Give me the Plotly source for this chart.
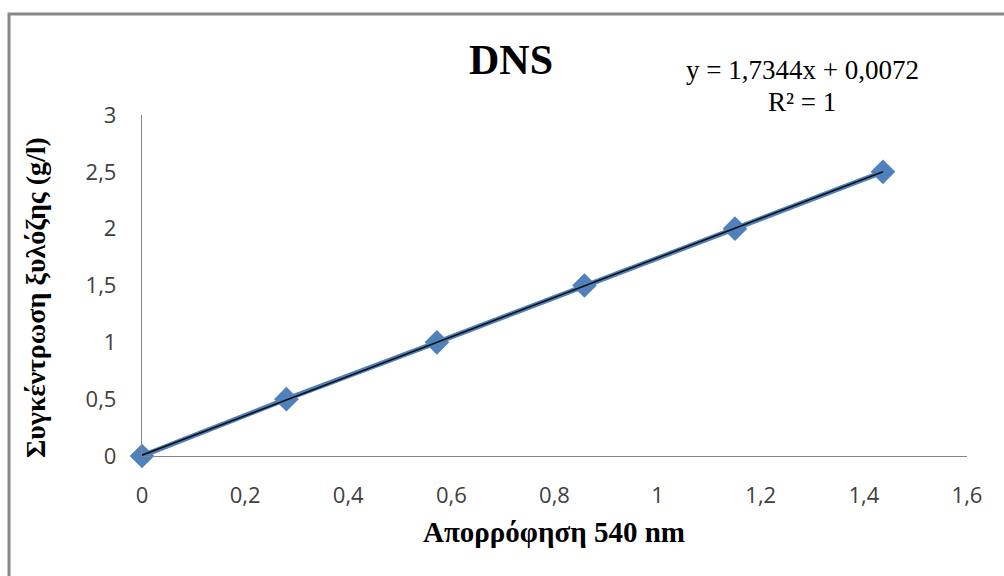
import numpy as np
import plotly.graph_objects as go

# Data
absorbance = [0.0, 0.280, 0.572, 0.858, 1.150, 1.437]   # Απορρόφηση 540 nm
concentration = [0.0, 0.5, 1.0, 1.5, 2.0, 2.5]           # g/l
x_ticks = [0, 0.2, 0.4, 0.6, 0.8, 1, 1.2, 1.4, 1.6]
y_ticks = [0, 0.5, 1, 1.5, 2, 2.5, 3]

title_text = "DNS"
x_title = "Απορρόφηση 540 nm"
y_title = "Συγκέντρωση ξυλόζης (g/l)"
eq_text = "y = 1,7344x + 0,0072"
r2_text = "R² = 1"

# Linear trendline fitted from the data (spans data range)
slope, intercept = np.polyfit(absorbance, concentration, 1)
trend_x = [min(absorbance), max(absorbance)]
trend_y = [slope * v + intercept for v in trend_x]

blue = "#4F81BD"
axis_gray = "#868686"
tick_font = dict(family="Open Sans", size=22, color="#404040")

fig = go.Figure()
fig.add_trace(go.Scatter(
    x=absorbance, y=concentration, mode="lines+markers",
    line=dict(color=blue, width=5),
    marker=dict(symbol="diamond", size=19, color=blue),
    cliponaxis=False,
    showlegend=False, hoverinfo="skip"))
fig.add_trace(go.Scatter(
    x=trend_x, y=trend_y, mode="lines",
    line=dict(color="#111111", width=1.6),
    cliponaxis=False,
    showlegend=False, hoverinfo="skip"))

L, R, T, B = 142, 37, 115, 120
W, H = 1004, 576
pw, ph = W - L - R, H - T - B

def px_to_paper_x(px):
    return (px - L) / pw

def px_to_paper_y(py):
    return (H - B - py) / ph

fig.update_layout(
    width=W, height=H,
    margin=dict(l=L, r=R, t=T, b=B, pad=0),
    paper_bgcolor="white", plot_bgcolor="white",
    separators=",.",
    showlegend=False,
    xaxis=dict(range=[0, 1.6], tickvals=x_ticks, showgrid=False, zeroline=False,
               showline=True, linecolor=axis_gray, linewidth=1.3,
               ticks="outside", ticklen=19, tickcolor="rgba(0,0,0,0)",
               tickfont=tick_font, fixedrange=True),
    yaxis=dict(range=[0, 3], tickvals=y_ticks, showgrid=False, zeroline=False,
               showline=True, linecolor=axis_gray, linewidth=1.3,
               ticks="outside", ticklen=20, tickcolor="rgba(0,0,0,0)",
               tickfont=tick_font, fixedrange=True),
    shapes=[dict(type="rect", xref="paper", yref="paper",
                 x0=px_to_paper_x(9), x1=px_to_paper_x(1100),
                 y0=px_to_paper_y(700), y1=px_to_paper_y(14),
                 line=dict(color="#888888", width=3), layer="below")],
    annotations=[
        dict(text="<b>" + title_text + "</b>", xref="paper", yref="paper",
             x=px_to_paper_x(511), y=px_to_paper_y(60), showarrow=False,
             xanchor="center", yanchor="middle",
             font=dict(family="Liberation Serif", size=42, color="black")),
        dict(text="<b>" + x_title + "</b>", xref="paper", yref="paper",
             x=px_to_paper_x(554), y=px_to_paper_y(532), showarrow=False,
             xanchor="center", yanchor="middle",
             font=dict(family="Liberation Serif", size=29, color="black")),
        dict(text="<b>" + y_title + "</b>", xref="paper", yref="paper",
             x=px_to_paper_x(35), y=px_to_paper_y(298), showarrow=False,
             xanchor="center", yanchor="middle", textangle=-90,
             font=dict(family="Liberation Serif", size=28, color="black")),
        dict(text=eq_text, xref="paper", yref="paper",
             x=px_to_paper_x(802), y=px_to_paper_y(70), showarrow=False,
             xanchor="center", yanchor="middle",
             font=dict(family="Liberation Serif", size=27, color="black")),
        dict(text=r2_text, xref="paper", yref="paper",
             x=px_to_paper_x(802), y=px_to_paper_y(102), showarrow=False,
             xanchor="center", yanchor="middle",
             font=dict(family="Liberation Serif", size=27, color="black")),
    ],
)

fig.write_html("out.html", config={"displayModeBar": False})
